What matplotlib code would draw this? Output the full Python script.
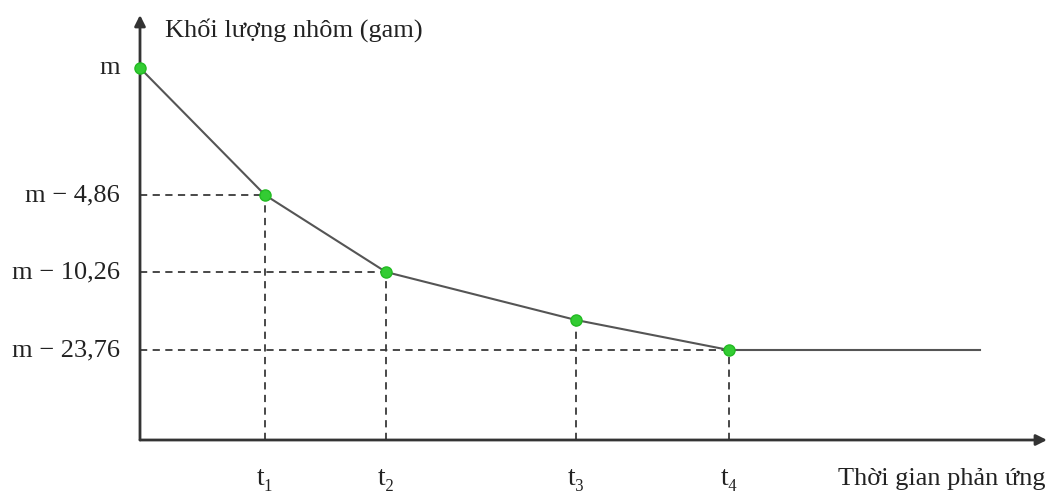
import matplotlib
matplotlib.use("Agg")
import matplotlib.pyplot as plt

# chart units (diagram is not to scale)
time_pos = [0, 125, 246, 436, 589, 840]
mass_pos = [372, 245, 168, 120, 90, 90]
marker_idx = [0, 1, 2, 3, 4]
ytick_idx = [0, 1, 2, 4]
ytick_labels = ["m", "m \u2212 4,86", "m \u2212 10,26", "m \u2212 23,76"]
xtick_idx = [1, 2, 3, 4]
xtick_labels = ["t\u2081", "t\u2082", "t\u2083", "t\u2084"]
ylabel = "Khối lượng nhôm (gam)"
xlabel = "Thời gian phản ứng"

FAM = ["Liberation Serif", "DejaVu Serif"]
plt.rcParams["font.family"] = FAM

fig = plt.figure(figsize=(10.52, 4.95), dpi=100)
ax = fig.add_axes([0, 0, 1, 1])
ax.set_xlim(-140, 912)
ax.set_ylim(-55, 440)
ax.axis("off")

# axes with arrows
ax.annotate("", xy=(0, 425), xytext=(0, 0),
            arrowprops=dict(arrowstyle="-|>", color="#333333", lw=2,
                            mutation_scale=16, shrinkA=0, shrinkB=0))
ax.annotate("", xy=(907, 0), xytext=(0, 0),
            arrowprops=dict(arrowstyle="-|>", color="#333333", lw=2,
                            mutation_scale=16, shrinkA=0, shrinkB=0))

# dashed guides
dash = dict(color="#3a3a3a", lw=1.3, ls=(0, (4, 3)))
for i in ytick_idx[1:]:
    ax.plot([0, time_pos[i]], [mass_pos[i], mass_pos[i]], **dash)
for i in xtick_idx:
    ax.plot([time_pos[i], time_pos[i]], [0, mass_pos[i]], **dash)

# curve
ax.plot(time_pos, mass_pos, color="#555555", lw=1.5, zorder=3)
ax.plot([time_pos[i] for i in marker_idx], [mass_pos[i] for i in marker_idx],
        ls="none", marker="o", ms=8, mfc="#33cc33", mec="#22bb22", zorder=4)

# labels
for i, lab in zip(ytick_idx, ytick_labels):
    ax.text(-20, mass_pos[i], lab, ha="right", va="center", fontsize=19, color="#222222")
for i, lab in zip(xtick_idx, xtick_labels):
    ax.text(time_pos[i], -45, lab, ha="center", va="baseline", fontsize=20, color="#222222")
ax.text(25, 410, ylabel, ha="left", va="center", fontsize=19, color="#222222")
ax.text(905, -45, xlabel, ha="right", va="baseline", fontsize=19, color="#222222")

fig.savefig("out.png", dpi=100)
